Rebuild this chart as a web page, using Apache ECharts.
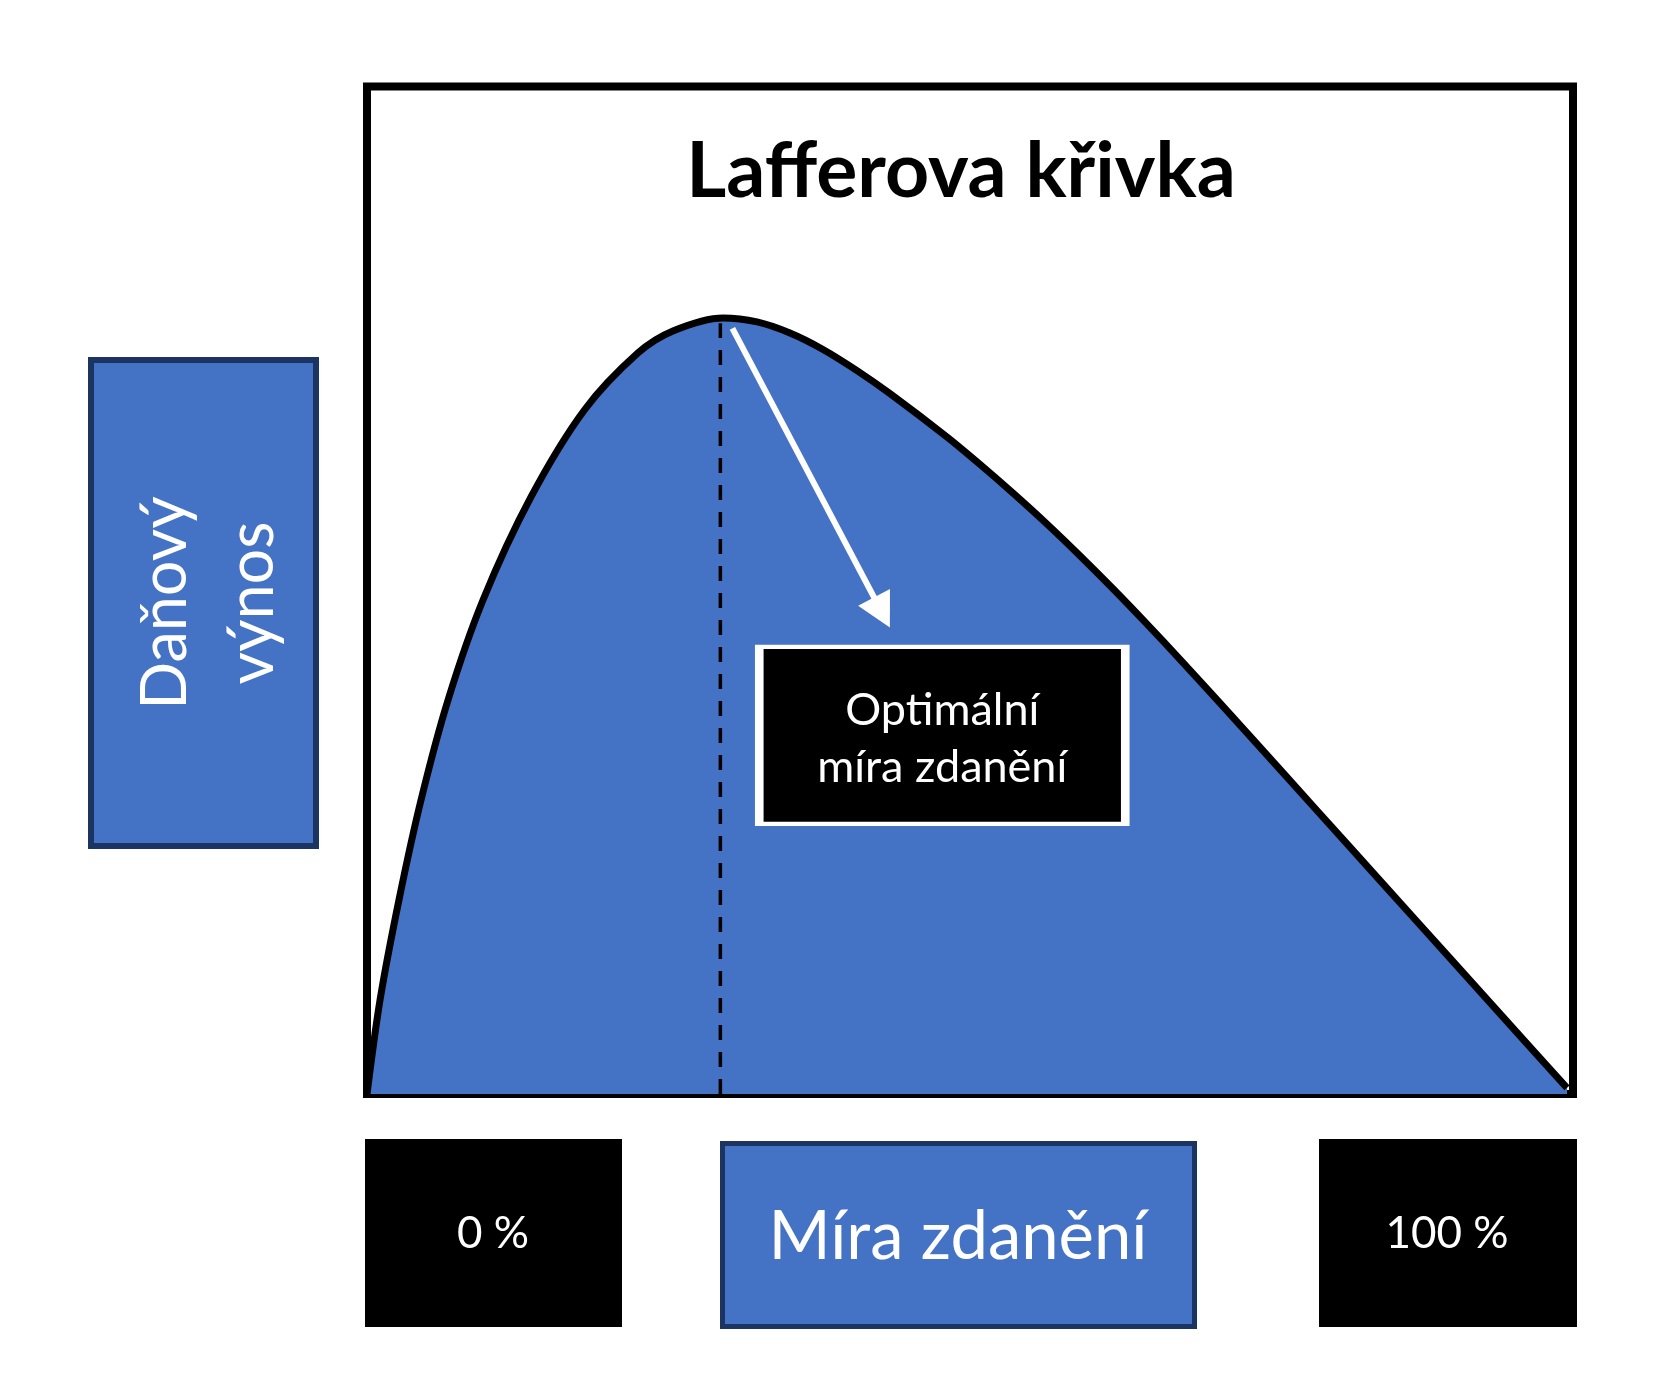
<!DOCTYPE html>
<html><head><meta charset="utf-8">
<script src="https://cdn.jsdelivr.net/npm/echarts@6/dist/echarts.min.js"></script>
<style>html,body{margin:0;padding:0;background:#fff}#c{width:1668px;height:1398px}</style>
</head><body><div id="c"></div>
<script>
// Laffer curve: tax rate (%) vs. tax revenue (relative units)
const taxRate = [0, 1.08, 2.65, 4.48, 6.72, 9.62, 13.60, 18.03, 22.47, 25.37, 29.52, 32.34, 35.07, 37.81, 40.63, 43.37, 48.09, 50.83, 53.57, 56.38, 59.12, 61.86, 64.68, 67.41, 70.15, 72.97, 78.77, 84.25, 89.80, 95.36, 99.50];
const revenue = [0, 9.33, 19.26, 29.18, 39.11, 49.03, 59.26, 67.89, 73.55, 75.73, 77.02, 76.63, 75.53, 73.90, 71.80, 69.51, 65.21, 62.49, 59.64, 56.58, 53.43, 50.15, 46.64, 43.14, 39.56, 35.85, 28.14, 20.86, 13.48, 6.10, 0.60];
const optimumRate = [29.3];
const optimumRevenue = [77.0];
const arrowFrom = [30.3, 76.0];
const arrowTo = [42.7, 47.8];
const annotationPos = [47.7, 35.6];
const titleText = 'Lafferova křivka';
const xTickLabels = ['0 %', '100 %'];
const xAxisName = 'Míra zdanění';
const yAxisName = 'Daňový\nvýnos';
const annotationText = 'Optimální\nmíra zdanění';

const BLUE = '#4472C4';
const NAVY = '#1c3461';
const FONT = 'Lato, "Open Sans", sans-serif';

const chart = echarts.init(document.getElementById('c'), null, {renderer: 'canvas'});
const curve = taxRate.map((x, i) => [x, revenue[i]]);

chart.setOption({
  animation: false,
  backgroundColor: '#fff',
  grid: {left: 367, right: 95, top: 86.5, bottom: 304, show: true, borderColor: '#000', borderWidth: 8, backgroundColor: 'transparent'},
  xAxis: {type: 'value', min: 0, max: 100, show: false},
  yAxis: {type: 'value', min: 0, max: 100, show: false},
  series: [
    {
      type: 'line', data: curve, smooth: 0.3, symbol: 'none',
      lineStyle: {color: '#000', width: 7, join: 'round'},
      areaStyle: {color: BLUE, opacity: 1},
      z: 2
    },
    {
      type: 'line', data: [[optimumRate[0], 0], [optimumRate[0], optimumRevenue[0] - 0.5]], symbol: 'none',
      lineStyle: {color: '#000', width: 3.5, type: [15, 12]},
      z: 3
    },
    {
      type: 'line', data: [], symbol: 'none', z: 4,
      markLine: {
        silent: true, animation: false,
        symbol: ['none', 'triangle'], symbolSize: [36, 34],
        lineStyle: {color: '#fff', width: 6, type: 'solid'},
        label: {show: false},
        data: [[{coord: arrowFrom}, {coord: arrowTo}]]
      },
      markPoint: {
        silent: true, animation: false,
        symbol: 'rect', symbolSize: [366, 177],
        itemStyle: {color: '#000', borderColor: '#fff', borderWidth: 6},
        label: {show: true, position: 'inside', offset: [0, 4], formatter: annotationText, color: '#fff', fontFamily: FONT, fontSize: 45, lineHeight: 57},
        data: [{coord: annotationPos}]
      }
    }
  ],
  graphic: [
    {type: 'text', x: 961, y: 172, style: {text: titleText, fill: '#000', font: 'bold 77px ' + FONT, align: 'center', verticalAlign: 'middle'}},
    {type: 'rect', shape: {x: 91, y: 360, width: 225, height: 486}, style: {fill: BLUE, stroke: NAVY, lineWidth: 6}},
    {type: 'text', x: 209, y: 603, rotation: Math.PI / 2, style: {text: yAxisName, fill: '#fff', font: '63px ' + FONT, align: 'center', verticalAlign: 'middle', lineHeight: 87}},
    {type: 'rect', shape: {x: 365, y: 1139, width: 257, height: 188}, style: {fill: '#000'}},
    {type: 'text', x: 493, y: 1234, style: {text: xTickLabels[0], fill: '#fff', font: '44px ' + FONT, align: 'center', verticalAlign: 'middle'}},
    {type: 'rect', shape: {x: 722.5, y: 1143.5, width: 472, height: 183}, style: {fill: BLUE, stroke: NAVY, lineWidth: 5}},
    {type: 'text', x: 958, y: 1237, style: {text: xAxisName, fill: '#fff', font: '67px ' + FONT, align: 'center', verticalAlign: 'middle'}},
    {type: 'rect', shape: {x: 1319, y: 1139, width: 258, height: 188}, style: {fill: '#000'}},
    {type: 'text', x: 1447, y: 1234, style: {text: xTickLabels[1], fill: '#fff', font: '44px ' + FONT, align: 'center', verticalAlign: 'middle'}}
  ]
});
</script></body></html>
